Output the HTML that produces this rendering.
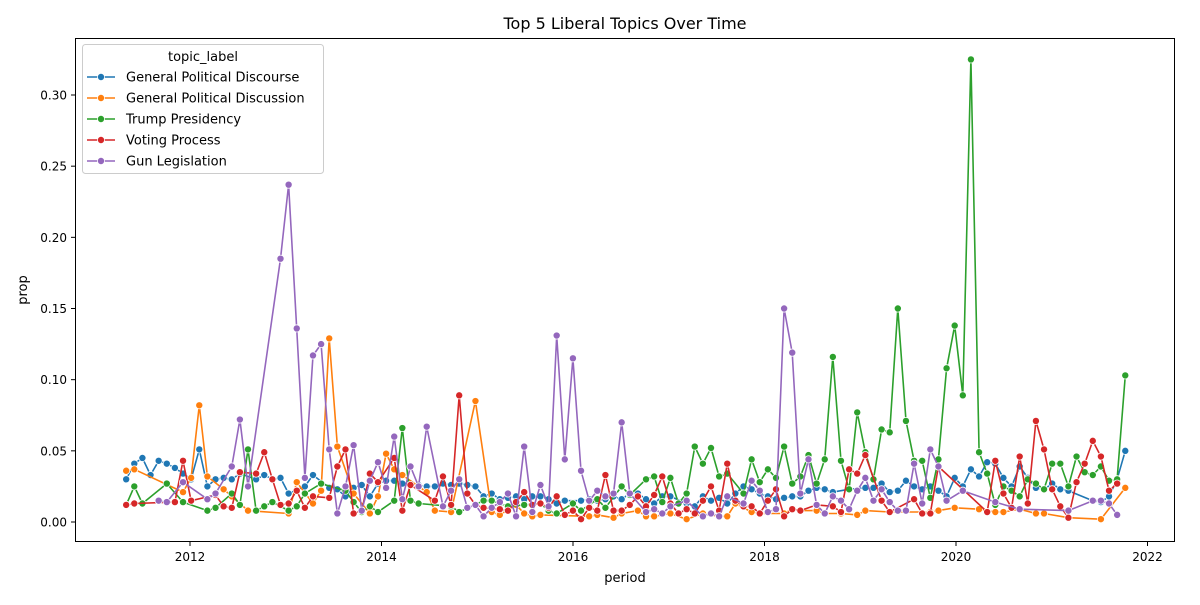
<!DOCTYPE html>
<html><head><meta charset="utf-8"><style>
body{margin:0;background:#fff;}
svg text{font-family:"DejaVu Sans","Liberation Sans",sans-serif;fill:#000;}
</style></head><body>
<svg id="chart" width="1200" height="600" xmlns="http://www.w3.org/2000/svg">
<rect width="1200" height="600" fill="#fff"/>
<text x="625" y="29" font-size="16" text-anchor="middle">Top 5 Liberal Topics Over Time</text>
<text x="625" y="582" font-size="13" text-anchor="middle">period</text>
<text x="27" y="290" font-size="13" text-anchor="middle" transform="rotate(-90 27 290)">prop</text>
<g id="ticks"></g>
<g id="series"></g>
<rect x="75.5" y="38.5" width="1099" height="503" fill="none" stroke="#000" stroke-width="1"/>
<g id="legend"></g>
</svg>
<script>
const seriesNames=["General Political Discourse","General Political Discussion","Trump Presidency","Voting Process","Gun Legislation"];
const seriesColors=["#1f77b4","#ff7f0e","#2ca02c","#d62728","#9467bd"];
const xTicks=[2012,2014,2016,2018,2020,2022];
const yTicks=[0,0.05,0.10,0.15,0.20,0.25,0.30];
// period index (approx. months since Jan 2011)
const blueM=[4,5,6,7,8,9,10,11,12,13,14,15,16,17,18,20,21,22,23,24,26,27,29,30,31,32,33,34,35,36,37,38,39,40,41,42,43,44,45,46,47,48,49,50,51,52,53,54,55,56,57,58,60,61,62,63,64,65,66,67,68,69,70,71,73,74,75,76,77,78,79,80,81,82,83,84,85,86,87,88,89,90,91,93,95,96,97,98,99,100,101,102,103,104,105,106,107,108,109,110,111,112,113,114,115,116,117,118,119,120,123,124,125,126,127];
const blueV=[.030,.041,.045,.033,.043,.041,.038,.034,.030,.051,.025,.030,.031,.030,.034,.030,.033,.030,.031,.020,.025,.033,.024,.023,.018,.024,.026,.018,.027,.029,.029,.027,.027,.026,.025,.025,.027,.026,.027,.026,.025,.018,.020,.016,.017,.018,.016,.018,.018,.016,.013,.015,.015,.016,.015,.016,.018,.016,.020,.020,.016,.013,.018,.018,.013,.011,.018,.015,.017,.013,.020,.025,.023,.020,.018,.016,.017,.018,.018,.022,.024,.023,.021,.023,.024,.024,.027,.021,.022,.029,.025,.023,.025,.022,.018,.031,.025,.037,.032,.042,.041,.031,.025,.039,.031,.024,.023,.027,.023,.022,.015,.014,.018,.030,.050];
const orangeM=[4,5,11,12,13,14,16,17,19,24,25,27,28,29,30,32,34,35,36,37,38,41,42,44,47,49,50,52,53,54,55,61,62,64,65,67,68,69,71,73,75,77,78,79,81,82,85,86,87,89,90,92,94,95,98,103,104,106,109,111,112,114,116,117,120,124,127];
const orangeV=[.036,.037,.021,.031,.082,.032,.023,.018,.008,.006,.028,.013,.022,.129,.053,.020,.006,.018,.048,.037,.033,.021,.008,.007,.085,.007,.005,.012,.006,.004,.005,.004,.005,.003,.006,.008,.004,.004,.006,.002,.006,.004,.004,.013,.007,.006,.006,.009,.008,.008,.006,.006,.005,.008,.007,.007,.008,.010,.009,.007,.007,.009,.006,.006,.003,.002,.024];
const greenM=[4,5,6,9,11,14,15,17,18,19,20,21,22,24,25,26,28,31,32,33,34,35,37,38,39,40,44,45,48,49,50,51,53,55,56,57,59,60,62,63,65,66,68,69,70,71,72,73,74,75,76,77,78,80,81,82,83,84,85,86,87,88,89,90,91,92,93,94,95,96,97,98,99,100,101,102,103,104,105,106,107,108,109,110,111,112,113,114,115,116,117,118,119,120,121,122,123,124,125,126,127];
const greenV=[.012,.025,.013,.027,.014,.008,.010,.020,.012,.051,.008,.011,.014,.008,.011,.020,.027,.022,.014,.007,.011,.007,.015,.066,.015,.013,.011,.007,.015,.015,.013,.011,.012,.013,.008,.006,.013,.008,.016,.010,.025,.019,.030,.032,.014,.031,.013,.020,.053,.041,.052,.032,.034,.020,.044,.028,.037,.031,.053,.027,.032,.047,.027,.044,.116,.043,.023,.077,.049,.030,.065,.063,.150,.071,.043,.043,.017,.044,.108,.138,.089,.325,.049,.034,.012,.025,.022,.018,.030,.027,.023,.041,.041,.025,.046,.035,.033,.039,.029,.030,.103];
const redM=[4,5,10,11,12,15,16,17,18,20,21,22,23,24,25,26,27,29,30,31,32,33,34,35,37,38,39,42,43,44,45,46,47,48,50,51,52,53,54,55,56,57,58,59,60,61,62,63,64,65,66,67,68,69,70,71,72,73,74,75,76,77,78,79,80,81,82,83,84,85,86,87,89,91,92,93,94,95,97,98,101,102,103,104,110,111,112,113,114,115,116,117,118,119,120,121,122,123,124,125,126];
const redV=[.012,.013,.014,.043,.015,.019,.011,.010,.035,.034,.049,.030,.012,.013,.022,.010,.018,.017,.039,.051,.006,.008,.034,.028,.045,.008,.026,.015,.032,.012,.089,.020,.012,.010,.009,.008,.014,.021,.012,.013,.010,.018,.005,.008,.002,.010,.008,.033,.008,.008,.012,.018,.011,.019,.032,.013,.006,.009,.006,.015,.025,.008,.041,.015,.011,.011,.006,.015,.023,.004,.009,.008,.012,.011,.007,.037,.034,.047,.015,.007,.016,.006,.006,.039,.007,.043,.020,.010,.046,.013,.071,.051,.023,.011,.003,.028,.041,.057,.046,.022,.027];
const purpleM=[8,9,11,14,15,17,18,19,23,24,25,26,27,28,29,30,31,32,33,34,35,36,37,38,39,40,41,43,44,45,46,47,48,49,50,51,52,53,54,55,56,57,58,59,60,61,62,63,64,65,66,68,69,70,71,73,75,76,77,78,80,81,82,83,84,85,86,87,88,89,90,91,92,93,94,95,96,97,98,99,100,101,102,103,104,105,107,111,114,120,123,124,125,126];
const purpleV=[.015,.014,.028,.016,.020,.039,.072,.025,.185,.237,.136,.031,.117,.125,.051,.006,.025,.054,.008,.029,.042,.024,.060,.016,.039,.025,.067,.011,.022,.030,.010,.012,.004,.010,.014,.020,.004,.053,.007,.026,.011,.131,.044,.115,.036,.015,.022,.018,.020,.070,.020,.007,.009,.006,.011,.015,.004,.006,.004,.018,.013,.029,.022,.007,.009,.150,.119,.020,.044,.012,.006,.018,.015,.009,.022,.031,.015,.023,.014,.008,.008,.041,.013,.051,.039,.015,.022,.014,.009,.008,.015,.015,.013,.005];
const allM=[blueM,orangeM,greenM,redM,purpleM];
const allV=[blueV,orangeV,greenV,redV,purpleV];

const NS="http://www.w3.org/2000/svg";
function xScale(year){return 190+(year-2012)*95.75;}
function yScale(v){return 522-v*1423.3;}
function monthToYear(m){return 2011+(4+(m-4)*1.018)/12;}
function mk(tag,attrs,parent){const e=document.createElementNS(NS,tag);for(const k in attrs)e.setAttribute(k,attrs[k]);parent.appendChild(e);return e;}

const tg=document.getElementById('ticks');
xTicks.forEach(t=>{const x=xScale(t);
 const l=mk('line',{x1:x,x2:x,y1:542,y2:546,stroke:'#000'},tg);
 
 
 const tx=mk('text',{x:x,y:561,'font-size':12,'text-anchor':'middle'},tg);tx.textContent=t;
 
 
});
yTicks.forEach(t=>{const y=yScale(t);
 const l=mk('line',{x1:71,x2:75,y1:y,y2:y,stroke:'#000'},tg);
 
 
 const tx=mk('text',{x:67,y:y+4.5,'font-size':12,'text-anchor':'end'},tg);tx.textContent=t.toFixed(2);
 
 
});

const sg=document.getElementById('series');
allM.forEach((ms,i)=>{
 const g=mk('g',{},sg);
 
 
 const pts=ms.map((m,j)=>xScale(monthToYear(m)).toFixed(1)+','+yScale(allV[i][j]).toFixed(1)).join(' ');
 const pl=mk('polyline',{points:pts,fill:'none',stroke:seriesColors[i],'stroke-width':1.6,'stroke-linejoin':'round'},g);
 
 
 ms.forEach((m,j)=>{
  const c=mk('circle',{cx:xScale(monthToYear(m)),cy:yScale(allV[i][j]),r:3.6,fill:seriesColors[i],stroke:'#fff','stroke-width':0.8},g);
  
  
 });
});

const lg=document.getElementById('legend');
const box=mk('rect',{x:82.5,y:44.5,width:241,height:129,rx:3,fill:'#fff','fill-opacity':0.8,stroke:'#ccc'},lg);


const lt=mk('text',{x:203,y:61,'font-size':13,'text-anchor':'middle'},lg);lt.textContent='topic_label';


seriesNames.forEach((n,i)=>{const y=77+i*21;
 const e=mk('g',{},lg);
 
 
 mk('line',{x1:87,x2:115,y1:y,y2:y,stroke:seriesColors[i],'stroke-width':1.6},e);
 mk('circle',{cx:101,cy:y,r:3.6,fill:seriesColors[i],stroke:'#fff','stroke-width':0.8},e);
 const t=mk('text',{x:126,y:y+4.5,'font-size':13},e);t.textContent=n;
});
</script>
</body></html>
